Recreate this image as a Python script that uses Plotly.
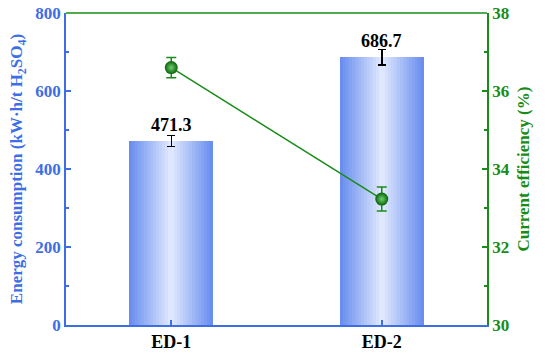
import plotly.graph_objects as go

# data
groups = ['ED-1', 'ED-2']
energy = [471.3, 686.7]
energy_err = [14, 20]
efficiency = [36.6, 33.23]
efficiency_err = [0.26, 0.31]

blue = '#3d6ee6'
green = '#178c17'
font = 'Liberation Serif'

fig = go.Figure()

# fake a horizontal gradient on the bars by stacking narrower, lighter bars
n_layers = 14
edge = (106, 142, 240)
centre = (222, 231, 253)
for i in range(n_layers):
    t = i / (n_layers - 1)
    c = tuple(round(edge[k] + (centre[k] - edge[k]) * t) for k in range(3))
    w = 0.4 * (1 - i / n_layers)
    fig.add_trace(go.Bar(
        x=groups, y=energy, width=w,
        marker=dict(color='rgb(%d,%d,%d)' % c, line=dict(width=0)),
        error_y=dict(type='data', array=energy_err, color='black',
                     thickness=1.5, width=4, visible=(i == n_layers - 1)),
        showlegend=False, hoverinfo='skip' if i else None,
    ))

fig.add_trace(go.Scatter(
    x=groups, y=efficiency, yaxis='y2', mode='lines+markers',
    line=dict(color=green, width=1.5),
    marker=dict(size=13, color='#076407',
                gradient=dict(type='radial', color='#6fcf6f'),
                line=dict(width=0)),
    error_y=dict(type='data', array=efficiency_err, color=green,
                 thickness=1.5, width=5),
    showlegend=False,
))

for g, v in zip(groups, energy):
    fig.add_annotation(x=g, y=v, text='<b>%.1f</b>' % v, showarrow=False,
                       yanchor='bottom', yshift=4,
                       font=dict(family=font, size=18, color='black'))

# green frame line on top
fig.add_shape(type='line', xref='paper', yref='paper', x0=0, x1=1, y0=1, y1=1,
              line=dict(color=green, width=1.5))

fig.update_layout(
    width=550, height=356,
    margin=dict(l=66, r=63, t=13, b=31),
    plot_bgcolor='white', paper_bgcolor='white',
    barmode='overlay', bargap=0,
    font=dict(family=font),
    xaxis=dict(
        range=[-0.5, 1.5], showline=True, linecolor=blue, linewidth=1.5,
        ticks='inside', ticklen=5, tickcolor=blue, tickwidth=1.5,
        tickfont=dict(family=font, size=18, color='black'),
        ticktext=['<b>ED-1</b>', '<b>ED-2</b>'], tickvals=groups,
        showgrid=False, zeroline=False, automargin=False,
    ),
    yaxis=dict(
        range=[0, 800], dtick=200, showline=True, linecolor=blue, linewidth=1.5,
        ticks='inside', ticklen=5, tickcolor=blue, tickwidth=1.5,
        minor=dict(dtick=100, ticks='inside', ticklen=3, tickcolor=blue),
        tickfont=dict(family=font, size=17, color=blue, weight='bold'),
        title=dict(text='<b>Energy consumption (kW·h/t H<sub>2</sub>SO<sub>4</sub>)</b>',
                   font=dict(family=font, size=17, color=blue), standoff=8),
        showgrid=False, zeroline=False, automargin=False,
    ),
    yaxis2=dict(
        range=[30, 38], dtick=2, overlaying='y', side='right',
        showline=True, linecolor=green, linewidth=1.5,
        ticks='inside', ticklen=5, tickcolor=green, tickwidth=1.5,
        minor=dict(dtick=1, ticks='inside', ticklen=3, tickcolor=green),
        tickfont=dict(family=font, size=17, color=green, weight='bold'),
        title=dict(text='<b>Current efficiency (%)</b>',
                   font=dict(family=font, size=17, color=green), standoff=8),
        showgrid=False, zeroline=False, automargin=False,
    ),
)

# drop the default 8px page margin so the figure sits at the window corner
fig.write_html('out.html', config={'displayModeBar': False},
               post_script="document.body.style.margin='0';")
